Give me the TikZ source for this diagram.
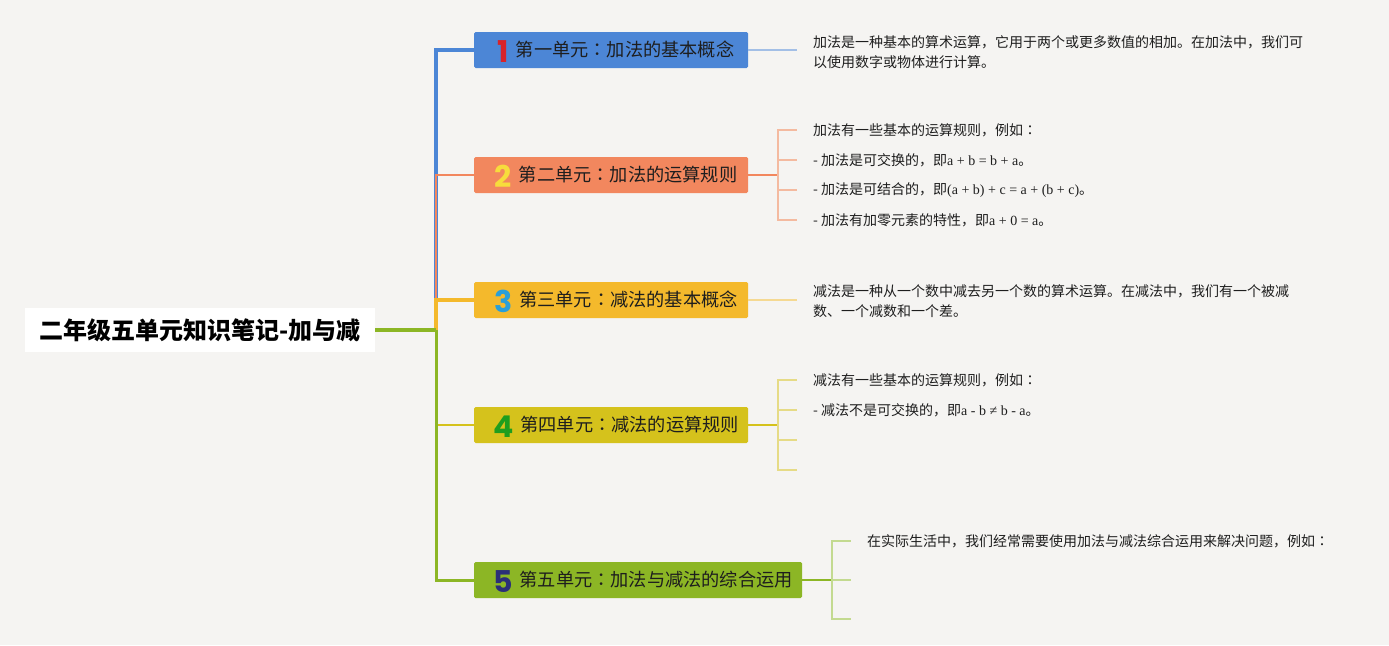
\documentclass[tikz,border=0pt]{standalone}
\usepackage{fontspec}
\setmainfont{Noto Sans CJK SC}
\newfontfamily\tcfont{Noto Sans CJK TC}
\newfontfamily\serifpart{Liberation Serif}
\newfontfamily\numfont{Poppins}
\newcommand\ccol{{\tcfont ：}}
\newcommand\fm[1]{{\serifpart #1}}
\newcommand\unum[2]{\hspace*{10pt}\raisebox{-5.5pt}[0pt][0pt]{\color{#1}\numfont\bfseries\fontsize{30}{30}\selectfont #2}\hspace{7pt}}
\definecolor{bg}{HTML}{F5F4F2}
\definecolor{cblue}{HTML}{4C86D6}
\definecolor{corange}{HTML}{F2875E}
\definecolor{cyellow}{HTML}{F4B92C}
\definecolor{colive}{HTML}{D5C21C}
\definecolor{cgreen}{HTML}{8CB625}
\definecolor{lblue}{HTML}{A3BFE6}
\definecolor{lorange}{HTML}{F4BAA0}
\definecolor{lyellow}{HTML}{F5D992}
\definecolor{lolive}{HTML}{E6DB86}
\definecolor{lgreen}{HTML}{C3DA90}
\definecolor{nred}{HTML}{D8232A}
\definecolor{nyellow}{HTML}{F7DC3C}
\definecolor{nblue}{HTML}{2A9FD8}
\definecolor{ngreen}{HTML}{1E9E1E}
\definecolor{nnavy}{HTML}{2B2F78}
\definecolor{tdark}{HTML}{1E1E1E}
\tikzset{
  unit/.style={draw=none, fill=#1, rounded corners=1.5pt, minimum height=36pt, inner sep=0pt,
    text height=15.5pt, text depth=2.3pt,
    font=\fontsize{18.2}{20}\selectfont, text=tdark},
  sub/.style={anchor=west, inner sep=0pt, align=left, text=tdark,
    font=\fontsize{14}{20}\selectfont},
  subline/.style={draw=#1, line width=1.4pt, shorten >=16pt},
  rootbox/.style={fill=white, minimum width=350pt, minimum height=44pt, inner sep=0pt,
    font=\bfseries\fontsize{24}{26}\selectfont, text=black}
}
\begin{document}
\begin{tikzpicture}[x=1pt,y=1pt]
\fill[bg] (0,0) rectangle (1389,-645);
\useasboundingbox (0,0) rectangle (1389,-645);

% root
\node[rootbox] (root) at (200,-330) {二年级五单元知识笔记-加与减};
\coordinate (hub) at (436,-330);

% unit nodes
\node[unit=cblue, minimum width=274pt] (n1) at (611,-50)
  {\unum{nred}{1}第一单元\ccol 加法的基本概念};
\node[unit=corange, minimum width=274pt] (n2) at (611,-175)
  {\unum{nyellow}{2}第二单元\ccol 加法的运算规则};
\node[unit=cyellow, minimum width=274pt] (n3) at (611,-300)
  {\unum{nblue}{3}第三单元\ccol 减法的基本概念};
\node[unit=colive, minimum width=274pt] (n4) at (611,-425)
  {\unum{ngreen}{4}第四单元\ccol 减法的运算规则};
\node[unit=cgreen, minimum width=328pt] (n5) at (638,-580)
  {\unum{nnavy}{5}第五单元\ccol 加法与减法的综合运用};

% trunk connectors
\draw[cblue, line width=4pt] (hub) |- (n1.west);
\draw[corange, line width=2pt] (hub) |- (n2.west);
\draw[colive, line width=2pt] (hub) |- (n4.west);
\draw[cgreen, line width=3pt] (hub) |- (n5.west);
\draw[cyellow, line width=4pt] (hub) |- (n3.west);
\draw[cgreen, line width=4pt] (root.east) -- (hub);

% unit 1 detail
\node[sub] (t1) at (813,-52) {加法是一种基本的算术运算，它用于两个或更多数值的相加。在加法中，我们可\\以使用数字或物体进行计算。};
\draw[subline=lblue] (n1.east) -- (t1.west |- n1.east);

% unit 2 detail
\coordinate (b2) at (778,-175);
\draw[corange, line width=1.6pt] (n2.east) -- (b2);
\node[sub] (t21) at (813,-130) {加法有一些基本的运算规则，例如\ccol};
\node[sub] (t22) at (813,-160) {- 加法是可交换的，即\fm{a + b = b + a}。};
\node[sub] (t23) at (813,-190) {- 加法是可结合的，即\fm{(a + b) + c = a + (b + c)}。};
\node[sub] (t24) at (813,-220) {- 加法有加零元素的特性，即\fm{a + 0 = a}。};
\foreach \t in {t21,t22,t23,t24} \draw[subline=lorange] (b2) |- (\t.west);

% unit 3 detail
\node[sub] (t3) at (813,-301) {减法是一种从一个数中减去另一个数的算术运算。在减法中，我们有一个被减\\数、一个减数和一个差。};
\draw[subline=lyellow] (n3.east) -- (t3.west |- n3.east);

% unit 4 detail
\coordinate (b4) at (778,-425);
\draw[colive, line width=1.6pt] (n4.east) -- (b4);
\node[sub] (t41) at (813,-380) {减法有一些基本的运算规则，例如\ccol};
\node[sub] (t42) at (813,-410) {- 减法不是可交换的，即\fm{a - b ≠ b - a}。};
\coordinate (e43) at (813,-440);
\coordinate (e44) at (813,-470);
\foreach \t in {t41.west,t42.west,e43,e44} \draw[subline=lolive] (b4) |- (\t);

% unit 5 detail
\coordinate (b5) at (832,-580);
\draw[cgreen, line width=1.6pt] (n5.east) -- (b5);
\node[sub] (t51) at (867,-541) {在实际生活中，我们经常需要使用加法与减法综合运用来解决问题，例如\ccol};
\coordinate (e52) at (867,-580);
\coordinate (e53) at (867,-619);
\foreach \t in {t51.west,e52,e53} \draw[subline=lgreen] (b5) |- (\t);
\end{tikzpicture}
\end{document}
